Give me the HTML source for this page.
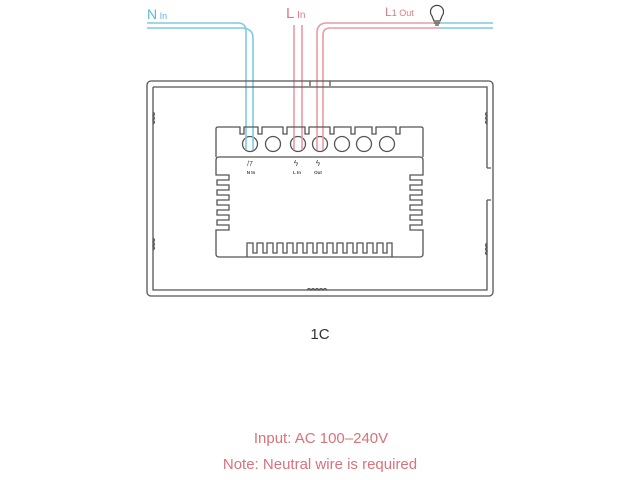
<!DOCTYPE html>
<html><head><style>
html,body{margin:0;padding:0;background:#fff;width:640px;height:480px;overflow:hidden}
</style></head><body>
<svg width="640" height="480" viewBox="0 0 640 480" xmlns="http://www.w3.org/2000/svg" font-family="Liberation Sans, sans-serif">
<!-- wires -->
<g fill="none" stroke-width="1.6">
<path d="M147 23 H238 q8 0 8 8 V144" stroke="#7fcbe0"/>
<path d="M147 28 H241 q12 0 12 10 V144" stroke="#7fcbe0"/>
<path d="M294 25 V144 M302 25 V144" stroke="#e99aa5"/>
<path d="M317 144 V33 q0-10 10-10 H440" stroke="#e99aa5"/>
<path d="M323 144 V35 q0-7 7-7 H440" stroke="#e99aa5"/>
<path d="M440 23 H493 M440 28 H493" stroke="#7fcbe0"/>
</g>
<g fill="none" stroke="#555" stroke-width="1.3">
<!-- outer frame -->
<rect x="147" y="81" width="346" height="215" rx="4"/>
<path d="M153 87 H487 V168"/>
<path d="M487 200 V290 H153 V87"/>
<path d="M487 168 H491 M487 200 H491"/>
<path d="M310 81 v5 M330 81 v5"/>
<path d="M153 112 q3 2 0 4 q3 2 0 4 q3 2 0 4 M153 238 q3 2 0 4 q3 2 0 4 q3 2 0 4 M487 112 q-3 2 0 4 q-3 2 0 4 q-3 2 0 4 M487 243 q-3 2 0 4 q-3 2 0 4 q-3 2 0 4"/>
<path d="M307 290 q2-3 4 0 q2-3 4 0 q2-3 4 0 q2-3 4 0 q2-3 4 0"/>
<!-- module top -->
<path d="M216 157 V129 q0-2 2-2 H240 V134 H244 V127 H258 V134 H262 V127 H283 V134 H287 V127 H305 V134 H309 V127 H330 V134 H334 V127 H351 V134 H355 V127 H372 V134 H376 V127 H396 V134 H400 V127 H421 q2 0 2 2 V157"/>
<!-- lower box -->
<path d="M219 157 H420 q3 0 3 3 V175 H410 V180 H422 V185 H410 V190 H422 V195 H410 V200 H422 V205 H410 V210 H422 V215 H410 V220 H422 V225 H410 V230 H423 V254 q0 3-3 3 H219 q-3 0-3-3 V230 H229 V225 H217 V220 H229 V215 H217 V210 H229 V205 H217 V200 H229 V195 H217 V190 H229 V185 H217 V180 H229 V175 H216 V160 q0-3 3-3 Z"/>
<path d="M247 257 V243 H253 V253 H257 V243 H263 V253 H267 V243 H273 V253 H277 V243 H283 V253 H287 V243 H293 V253 H297 V243 H303 V253 H307 V243 H313 V253 H317 V243 H323 V253 H327 V243 H333 V253 H337 V243 H343 V253 H347 V243 H353 V253 H357 V243 H363 V253 H367 V243 H373 V253 H377 V243 H383 V253 H387 V243 H392 V257"/>
</g>
<!-- terminals -->
<g stroke="#555" stroke-width="1.3" fill="#fff">
<circle cx="250" cy="144" r="7.5"/>
<circle cx="273" cy="144" r="7.5"/>
<circle cx="298" cy="144" r="7.5"/>
<circle cx="320" cy="144" r="7.5"/>
<circle cx="342" cy="144" r="7.5"/>
<circle cx="364" cy="144" r="7.5"/>
<circle cx="387" cy="144" r="7.5"/>
</g>
<g fill="none" stroke-width="1.6">
<path d="M246 136 V150 M253 136 V150" stroke="#7fcbe0"/>
<path d="M294 136 V150 M302 136 V150 M317 136 V150 M323 136 V150" stroke="#e99aa5"/>
</g>
<!-- bulb -->
<g fill="#fff" stroke="#444" stroke-width="1.2">
<path d="M432 16 a6.5 6.5 0 1 1 10 0 l-2 5 h-6 z"/>
<path d="M434 23 h6 M435 25 h4" fill="none"/>
</g>
<!-- labels -->
<text x="147" y="19" font-size="14" fill="#5fb8d6">N<tspan font-size="9"> In</tspan></text>
<text x="286" y="18" font-size="15" fill="#dc7a85">L<tspan font-size="10"> In</tspan></text>
<text x="385" y="16" font-size="12" fill="#dc7a85">L<tspan font-size="9">1 Out</tspan></text>
<g font-size="4.5" fill="#444" text-anchor="middle" font-weight="bold">
<text x="250" y="166" font-size="7" font-weight="normal">/7</text>
<text x="296" y="166" font-size="8" font-weight="normal">ϟ</text>
<text x="318" y="166" font-size="8" font-weight="normal">ϟ</text>
<text x="251" y="174">N In</text>
<text x="297" y="174">L In</text>
<text x="318" y="174">Out</text>
</g>
<text x="320" y="339" font-size="15" fill="#333" text-anchor="middle">1C</text>
<text x="321" y="443" font-size="15" fill="#d9727a" text-anchor="middle">Input: AC 100–240V</text>
<text x="320" y="469" font-size="15" fill="#d9727a" text-anchor="middle">Note: Neutral wire is required</text>
</svg>
</body></html>
